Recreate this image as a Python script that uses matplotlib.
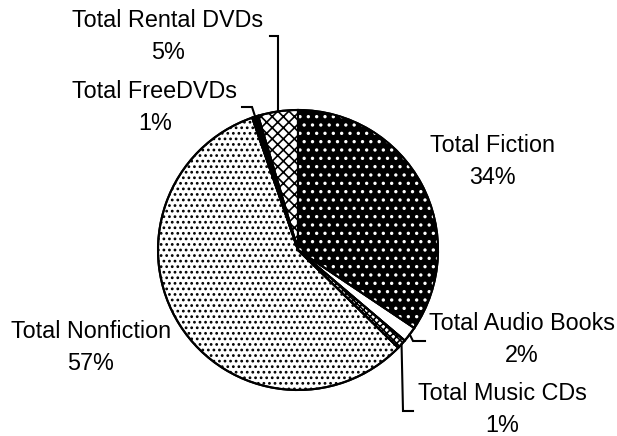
import numpy as np
import matplotlib.pyplot as plt
import matplotlib.patches as mpatches

plt.rcParams['font.family'] = ['Liberation Sans', 'DejaVu Sans']
plt.rcParams['hatch.linewidth'] = 1.2

# slices, clockwise from 12 o'clock
names = ['Total Fiction', 'Total Audio Books', 'Total Music CDs',
         'Total Nonfiction', 'Total FreeDVDs', 'Total Rental DVDs']
shares = [34.4, 1.8, 1.1, 57.4, 0.7, 4.6]

faces = ['black', 'white', 'white', 'white', 'black', 'white']
hatches = ['..', None, 'xxxxx', '...', None, 'xxx']
hatch_cols = ['white', None, 'black', 'black', None, 'black']

W, H = 617, 436
def flip(y):
    return H - y

fig = plt.figure(figsize=(6.17, 4.36), dpi=100)
ax = fig.add_axes([0, 0, 1, 1])

cx, cy, r = 298, flip(250), 140
wedges, _ = ax.pie(shares, startangle=90, counterclock=False, center=(cx, cy),
                   radius=r, colors=faces, frame=True,
                   wedgeprops=dict(edgecolor='black', linewidth=1.5))

for w, h, hc in zip(wedges, hatches, hatch_cols):
    if h is None:
        continue
    ov = mpatches.Wedge((cx, cy), r, w.theta1, w.theta2, facecolor='none',
                        edgecolor=hc, hatch=h, linewidth=0, zorder=2)
    ax.add_patch(ov)
for w in wedges:
    ol = mpatches.Wedge((cx, cy), r, w.theta1, w.theta2, fill=False,
                        edgecolor='black', linewidth=1.5, zorder=3)
    ax.add_patch(ol)

# label centres (pixels from top-left) and leader elbows
label_pos = [(492, 162), (522, 340), (502, 409), (91, 347), (155, 107), (168, 37)]
leaders = {1: [(413, 341), (425, 341)],
           2: [(403, 411), (413, 411)],
           4: [(252, 107), (242, 107)],
           5: [None, (270, 36)]}

for i, (name, val) in enumerate(zip(names, shares)):
    x, y = label_pos[i]
    ax.text(x, flip(y), '%s\n%.0f%%' % (name, val), ha='center', va='center',
            multialignment='center', fontsize=16.8, linespacing=1.5, zorder=5)
    if i in leaders:
        w = wedges[i]
        th = np.deg2rad((w.theta1 + w.theta2) / 2)
        ax_, ay_ = cx + r * np.cos(th), cy + r * np.sin(th)
        pts = [(ax_, ay_)]
        for p in leaders[i]:
            if p is None:
                pts.append((ax_, flip(leaders[i][1][1])))
            else:
                pts.append((p[0], flip(p[1])))
        xs, ys = zip(*pts)
        ax.plot(xs, ys, color='black', linewidth=1.5, zorder=4,
                solid_joinstyle='miter')

ax.set_xlim(0, W)
ax.set_ylim(0, H)
ax.set_aspect('equal')
ax.axis('off')

fig.savefig('out.png', dpi=100, facecolor='white')
